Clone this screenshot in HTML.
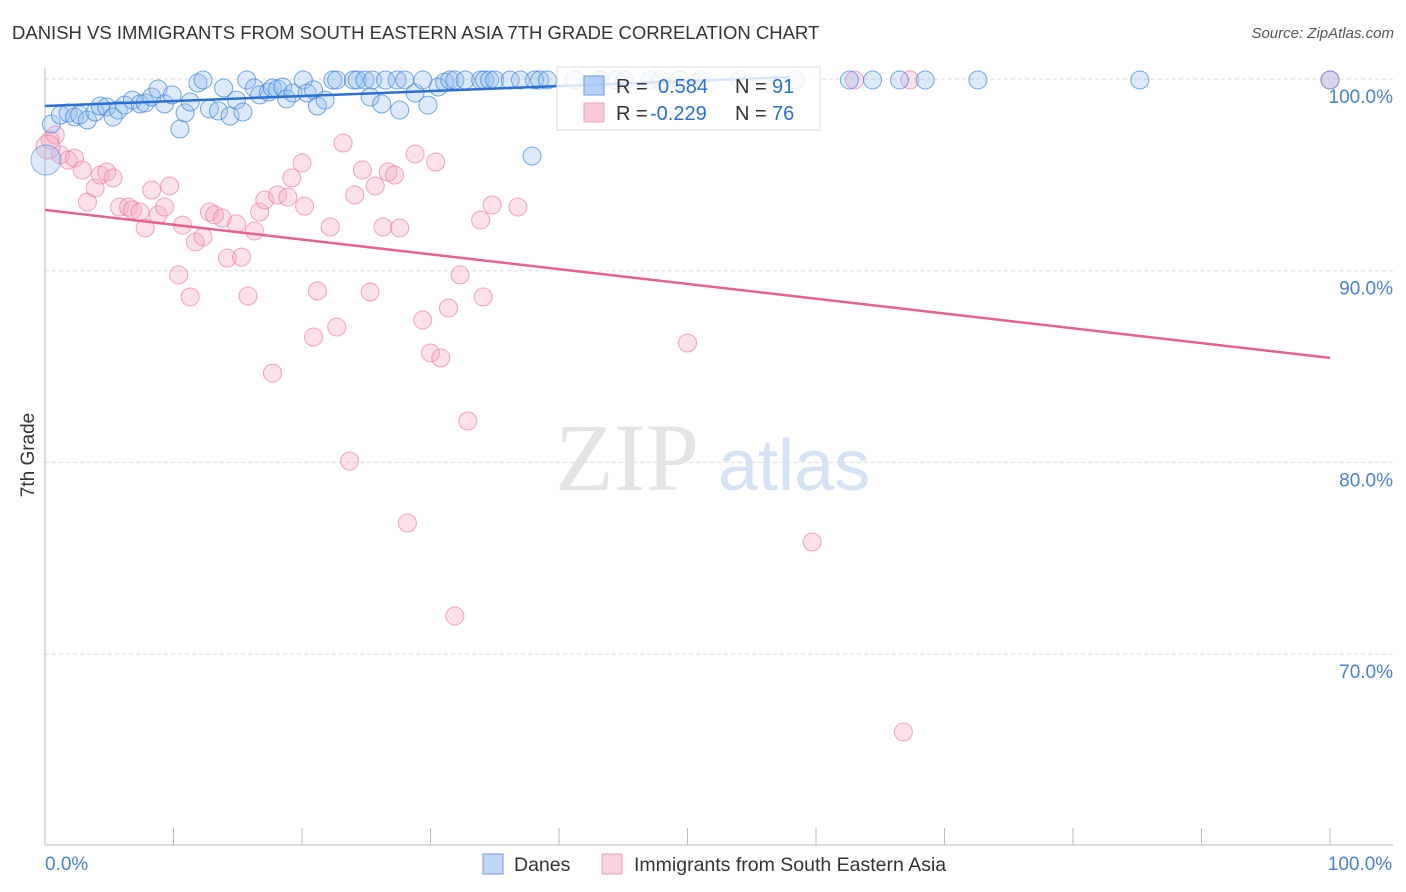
<!DOCTYPE html>
<html><head><meta charset="utf-8"><style>
body{margin:0;background:#fff;font-family:"Liberation Sans",sans-serif;}
#wrap{position:relative;width:1406px;height:892px;overflow:hidden;}
.t{position:absolute;white-space:nowrap;}
</style></head><body><div id="wrap">
<div class="t" style="left:12px;top:22px;font-size:18.5px;color:#333;">DANISH VS IMMIGRANTS FROM SOUTH EASTERN ASIA 7TH GRADE CORRELATION CHART</div>
<div class="t" style="right:12px;top:25px;font-size:15px;color:#555;font-style:italic;">Source: ZipAtlas.com</div>
<svg id="svg" width="1406" height="892" style="position:absolute;left:0;top:0"></svg>
</div>
<script>
const yTicks=[100,90,80,70];
const yTickLabels=["100.0%","90.0%","80.0%","70.0%"];
const xTickLabels=["0.0%","100.0%"];
const danesX=[0.5,1.2,1.8,2.3,2.7,3.3,3.9,4.3,4.8,5.3,5.7,6.2,6.8,7.4,7.8,8.3,8.8,9.3,9.9,10.5,10.9,11.3,11.9,12.3,12.8,13.5,13.9,14.4,14.9,15.4,15.7,16.3,16.7,17.4,17.7,18.1,18.5,18.8,19.3,20.1,20.4,20.9,21.2,21.8,22.4,22.7,24.0,24.3,24.9,25.3,25.5,26.2,26.5,27.4,27.6,28.0,28.8,29.4,29.8,30.6,31.1,31.5,31.9,32.7,33.9,34.2,34.6,35.0,36.2,37.0,38.1,38.5,39.1,37.9,41.2,43.2,44.4,45.1,47.1,47.9,49.4,51.0,54.1,58.4,62.6,64.4,66.5,68.5,72.6,85.2,100];
const danesY=[97.65,98.12,98.23,98.02,98.12,97.86,98.28,98.59,98.54,98.02,98.38,98.64,98.9,98.7,98.75,99.06,99.48,98.7,99.17,97.39,98.23,98.8,99.79,99.95,98.44,98.33,99.53,98.07,98.9,98.28,99.95,99.53,99.17,99.32,99.53,99.48,99.58,98.96,99.27,99.95,99.27,99.43,98.59,98.9,99.95,99.95,99.95,99.95,99.95,99.06,99.95,98.7,99.95,99.95,98.38,99.95,99.27,99.95,98.64,99.58,99.84,99.95,99.95,99.95,99.95,99.95,99.95,99.95,99.95,99.95,99.95,99.95,99.95,95.98,99.95,99.95,99.95,99.95,99.95,99.95,99.95,99.95,99.95,99.95,99.95,99.95,99.95,99.95,99.95,99.95,99.95];
const immX=[0.4,0.8,1.2,1.8,2.3,2.9,3.3,3.9,4.3,4.8,5.3,5.8,6.5,6.8,7.4,7.8,8.3,8.8,9.3,9.7,10.4,10.7,11.3,11.7,12.3,12.8,13.2,13.8,14.2,14.9,15.3,15.8,16.3,16.7,17.1,17.7,18.1,18.9,19.2,20.0,20.2,20.9,21.2,22.2,22.7,23.2,23.7,24.1,24.7,25.3,25.7,26.3,26.7,27.2,27.6,28.2,28.8,29.4,30.0,30.4,30.8,31.4,31.9,32.3,32.9,33.9,34.1,34.8,36.8,50.0,59.7,66.8,63.0,67.3,100];
const immY=[96.82,97.08,96.04,95.77,95.88,95.25,93.58,94.31,94.99,95.15,94.84,93.32,93.32,93.17,93.06,92.23,94.21,92.91,93.32,94.42,89.78,92.38,88.63,91.5,91.76,93.06,92.91,92.75,90.66,92.44,90.71,88.68,92.07,93.06,93.69,84.66,93.95,93.84,94.84,95.62,93.37,86.54,88.94,92.28,87.06,96.66,80.07,93.95,95.25,88.89,94.42,92.28,95.15,94.99,92.23,76.84,96.09,87.43,85.71,95.67,85.45,88.05,71.99,89.78,82.16,92.64,88.63,93.43,93.32,86.23,75.85,65.94,99.95,99.95,99.95];
const danesTrend=[98.59,100.1]; const danesTrendX=[0,58];
const immTrend=[93.17,85.45]; const immTrendX=[0,100];
const X0=45,X1=1330,Y100=79,PX10=191.7;
const sx=v=>X0+(X1-X0)*v/100;
const sy=v=>Y100+(100-v)*PX10/10;
const svg=document.getElementById('svg');const NS='http://www.w3.org/2000/svg';
function mk(tag,at,parent){const e=document.createElementNS(NS,tag);for(const k in at)e.setAttribute(k,at[k]);(parent||svg).appendChild(e);return e;}
yTicks.forEach((v,i)=>{
 const g=mk('line',{x1:X0,x2:1393,y1:sy(v),y2:sy(v),stroke:'#ddd','stroke-dasharray':'4,3'});
 
 
 const t=mk('text',{x:1393,y:sy(v)+24,'text-anchor':'end','font-size':19,fill:'#4a7fd4','font-family':'Liberation Sans'});
 t.textContent=yTickLabels[i];
 
 
});
const ax=mk('line',{x1:X0,x2:X0,y1:68,y2:845,stroke:'#bbb'});


const bx=mk('line',{x1:X0,x2:1393,y1:845,y2:845,stroke:'#bbb'});


for(let i=0;i<=10;i++){const tk=mk('line',{x1:sx(i*10),x2:sx(i*10),y1:828,y2:845,stroke:'#bbb'});
 
 }
[[0,'start'],[100,'middle']].forEach((p,i)=>{const t=mk('text',{x:i?sx(100)+30:45,y:870,'text-anchor':p[1],'font-size':19,fill:'#4a7fd4','font-family':'Liberation Sans'});t.textContent=xTickLabels[i];
 
 });
const wm=mk('text',{x:555,y:490,'font-size':96,fill:'#e4e4e4','font-family':'Liberation Serif'});wm.textContent='ZIP';


const wm2=mk('text',{x:718,y:490,'font-size':72,fill:'#d6e3f5','font-family':'Liberation Sans'});wm2.textContent='atlas';


const yt=mk('text',{x:0,y:0,transform:'translate(34,455) rotate(-90)','text-anchor':'middle','font-size':19,fill:'#333','font-family':'Liberation Sans'});yt.textContent='7th Grade';


immX.forEach((x,i)=>{const c=mk('circle',{cx:sx(x),cy:sy(immY[i]),r:9,fill:'rgba(246,170,195,0.35)',stroke:'rgba(232,120,160,0.65)','stroke-width':1});
 
 });
const bigp=mk('circle',{cx:48,cy:147,r:12,fill:'rgba(246,170,195,0.35)',stroke:'rgba(232,120,160,0.65)'});


danesX.forEach((x,i)=>{const c=mk('circle',{cx:sx(x),cy:sy(danesY[i]),r:9,fill:'rgba(150,190,240,0.32)',stroke:'rgba(60,130,220,0.7)','stroke-width':1});
 
 });
const bigb=mk('circle',{cx:46,cy:160,r:15,fill:'rgba(150,190,240,0.32)',stroke:'rgba(60,130,220,0.55)'});


const l1=mk('line',{x1:sx(danesTrendX[0]),y1:sy(danesTrend[0]),x2:sx(danesTrendX[1]),y2:sy(danesTrend[1]),stroke:'#2a6fd6','stroke-width':2.5});


const l2=mk('line',{x1:sx(immTrendX[0]),y1:sy(immTrend[0]),x2:sx(immTrendX[1]),y2:sy(immTrend[1]),stroke:'#e8608f','stroke-width':2.5});


const lg=mk('g',{});
mk('rect',{x:557,y:67,width:263,height:63,fill:'rgba(255,255,255,0.82)',stroke:'#ddd'},lg);
mk('rect',{x:584,y:76,width:20,height:19,fill:'rgba(150,190,240,0.7)',stroke:'#6a9ae0'},lg);
mk('rect',{x:584,y:103,width:20,height:19,fill:'rgba(246,180,200,0.7)',stroke:'#eea0bb'},lg);
[['R = ',0.584,' N = ',91,93],['R = ',-0.229,' N = ',76,120]].forEach(r=>{
 const t=mk('text',{x:616,y:r[4],'font-size':20,'font-family':'Liberation Sans',fill:'#333'},lg);
 t.innerHTML=`R = <tspan fill="#2a6fd6" x="${r[1]<0?650:658}">${r[1].toFixed(3)}</tspan><tspan x="735">N = </tspan><tspan fill="#2a6fd6" x="772">${r[3]}</tspan>`;
});
const bl=mk('g',{});
mk('rect',{x:483,y:854,width:20,height:20,fill:'rgba(150,190,240,0.6)',stroke:'#6a9ae0'},bl);
const d=mk('text',{x:514,y:871,'font-size':19.5,fill:'#333','font-family':'Liberation Sans'},bl);d.textContent='Danes';
mk('rect',{x:602,y:854,width:20,height:20,fill:'rgba(246,180,200,0.6)',stroke:'#eea0bb'},bl);
const im=mk('text',{x:634,y:871,'font-size':19.5,fill:'#333','font-family':'Liberation Sans'},bl);im.textContent='Immigrants from South Eastern Asia';
</script></body></html>
